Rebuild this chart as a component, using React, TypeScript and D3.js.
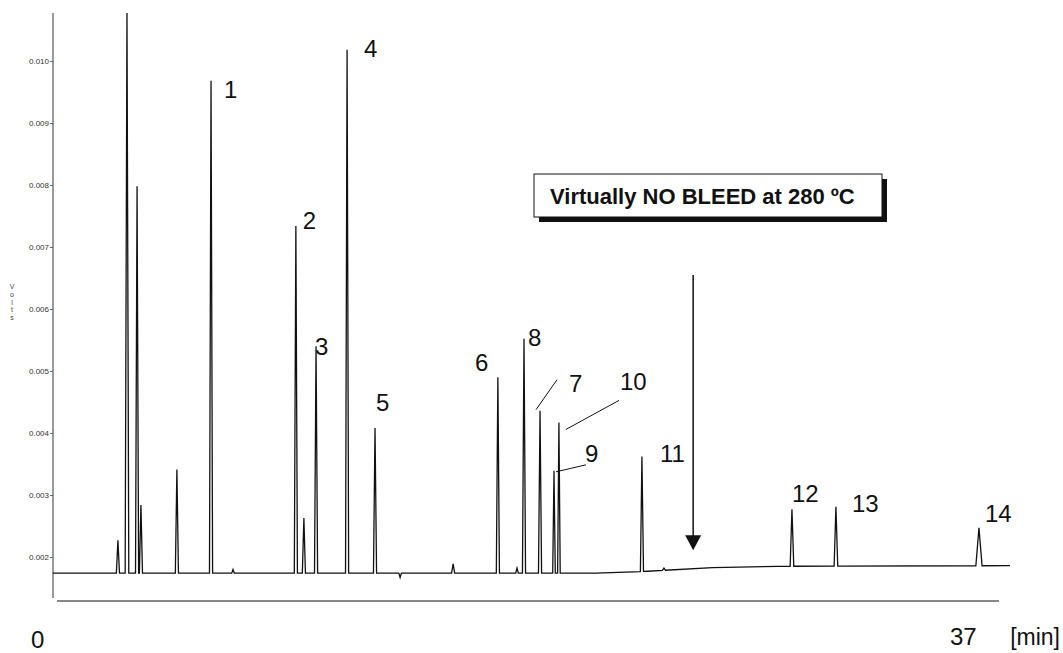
import { useEffect, useRef } from 'react';
import * as d3 from 'd3';

// retention time (min) and apex height (volts) of every peak
const peakTimes = [2.51, 2.86, 3.25, 3.4, 4.79, 6.11, 6.96, 9.39, 9.7, 10.17, 11.37, 12.45, 13.42, 15.47, 17.2, 17.94, 18.21, 18.83, 19.37, 19.56, 22.77, 23.62, 28.57, 30.27, 35.8];
const peakVolts = [0.00227, 0.0108, 0.00798, 0.00284, 0.00341, 0.00968, 0.0018, 0.00734, 0.00263, 0.0054, 0.01018, 0.00408, 0.00167, 0.00189, 0.0049, 0.00182, 0.00552, 0.00436, 0.00339, 0.00417, 0.00362, 0.00182, 0.00277, 0.00281, 0.00247];
const peakHalfWidths = [0.06, 0.07, 0.06, 0.06, 0.06, 0.06, 0.05, 0.06, 0.06, 0.06, 0.06, 0.06, 0.05, 0.06, 0.06, 0.05, 0.06, 0.06, 0.05, 0.05, 0.06, 0.06, 0.07, 0.07, 0.12];
const peakNames = ['', '', '', '', '', '1', '', '2', '', '3', '4', '5', '', '', '6', '', '8', '7', '9', '10', '11', '', '12', '13', '14'];

// baseline drift
const baselineTimes = [0, 21, 23, 25.5, 28, 37];
const baselineVolts = [0.00174, 0.00174, 0.00177, 0.00183, 0.00185, 0.00186];

const yTicks = [0.002, 0.003, 0.004, 0.005, 0.006, 0.007, 0.008, 0.009, 0.01];
const volts = ['V', 'o', 'l', 't', 's'];

const arrowTime = 24.75;
const arrowFrom = 0.00655;
const arrowTo = 0.00211;

// label placement relative to the apex, px
const labelOffsets: Record<string, [number, number]> = {
  '1': [13, 17], '2': [7, 3], '3': [-1, 9], '4': [17, 7], '5': [1, -17], '6': [-23, -6],
  '8': [4, 7], '7': [29, -19], '9': [31, -9], '10': [61, -32], '11': [18, 5], '12': [0, -7],
  '13': [16, 5], '14': [6, -6],
};
const leaders: Record<string, [number, number, number, number]> = {
  '7': [17, -31, -4, -1],
  '9': [32, -6, 2, 1],
  '10': [60, -22, 7, 7],
};

const W = 1063;
const H = 653;
const font = 'Arial, "Liberation Sans", sans-serif';

export default function App() {
  const axisRef = useRef<SVGGElement>(null);

  const x = d3.scaleLinear().domain([0, 37]).range([53, 1010]);
  const y = d3.scaleLinear().domain([0.002, 0.01]).range([557, 61]);
  const base = d3.scaleLinear().domain(baselineTimes).range(baselineVolts);

  const pts: [number, number][] = baselineTimes.map((t, i) => [t, baselineVolts[i]]);
  peakTimes.forEach((t, i) => {
    const w = peakHalfWidths[i];
    pts.push([t - w, base(t - w)], [t, peakVolts[i]], [t + w, base(t + w)]);
  });
  pts.sort((a, b) => a[0] - b[0]);
  const line = d3.line<[number, number]>().x((d) => x(d[0])).y((d) => y(d[1]));

  useEffect(() => {
    const g = d3.select(axisRef.current);
    g.selectAll('*').remove();
    g.call(d3.axisLeft(y).tickValues(yTicks).tickFormat(d3.format('.3f')).tickSize(3).tickPadding(1));
    g.select('.domain').remove();
    g.selectAll('.tick line').attr('stroke', '#666');
    g.selectAll('.tick text').attr('fill', '#333').style('font-size', '8px').style('font-family', font);
  }, []);

  return (
    <svg width={W} height={H} style={{ position: 'absolute', left: 0, top: 0, background: '#fff' }}>
      <defs>
        <clipPath id="plot">
          <rect x={53} y={13} width={980} height={600} />
        </clipPath>
      </defs>
      <rect width={W} height={H} fill="#fff" />

      {/* y axis */}
      <line x1={53} x2={53} y1={13} y2={598} stroke="#777" strokeWidth={1.5} />
      <g ref={axisRef} transform="translate(53,0)" />
      {volts.map((c, i) => (
        <text key={i} x={12} y={289 + i * 7.8} textAnchor="middle" fontSize={7} fill="#444" fontFamily={font}>
          {c}
        </text>
      ))}

      {/* time line */}
      <line x1={57} x2={999} y1={601} y2={601} stroke="#111" strokeWidth={1.2} />
      <text x={31} y={648} fontSize={24} fontFamily={font} fill="#111">0</text>
      <text x={950} y={645} fontSize={24} fontFamily={font} fill="#111">37</text>
      <text x={1060} y={645} textAnchor="end" fontSize={23} fontFamily={font} fill="#111">[min]</text>

      {/* chromatogram */}
      <path d={line(pts) ?? ''} fill="none" stroke="#111" strokeWidth={1.3} clipPath="url(#plot)" />

      {/* peak labels */}
      {peakNames.map((name, i) => {
        if (!name) return null;
        const px = x(peakTimes[i]);
        const py = y(peakVolts[i]);
        const [dx, dy] = labelOffsets[name];
        const ld = leaders[name];
        return (
          <g key={name}>
            {ld && <line x1={px + ld[0]} y1={py + ld[1]} x2={px + ld[2]} y2={py + ld[3]} stroke="#111" strokeWidth={1} />}
            <text x={px + dx} y={py + dy} fontSize={24} fontFamily={font} fill="#111">
              {name}
            </text>
          </g>
        );
      })}

      {/* arrow */}
      <line x1={x(arrowTime)} x2={x(arrowTime)} y1={y(arrowFrom)} y2={y(arrowTo) - 12} stroke="#111" strokeWidth={1.5} />
      <path
        d={`M${x(arrowTime) - 8},${y(arrowTo) - 15} L${x(arrowTime) + 8},${y(arrowTo) - 15} L${x(arrowTime)},${y(arrowTo)} Z`}
        fill="#111"
      />

      {/* annotation box */}
      <rect x={539} y={179} width={348} height={43} fill="#111" />
      <rect x={534} y={174} width={348} height={43} fill="#fff" stroke="#111" strokeWidth={1} />
      <text x={550} y={204} fontSize={22} fontWeight="bold" fontFamily={font} fill="#111">
        Virtually NO BLEED at 280 ºC
      </text>
    </svg>
  );
}
